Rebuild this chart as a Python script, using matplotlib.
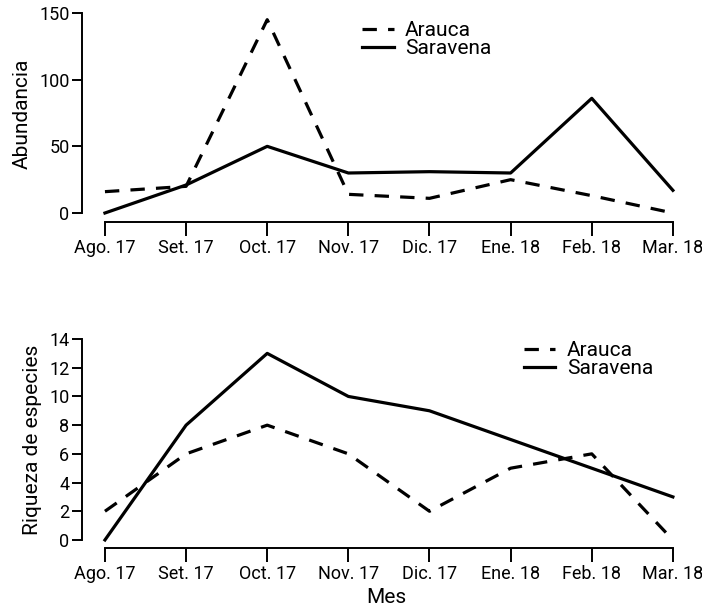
import matplotlib.pyplot as plt

plt.rcParams['font.family'] = ['Roboto', 'DejaVu Sans']

months = ['Ago. 17', 'Set. 17', 'Oct. 17', 'Nov. 17', 'Dic. 17', 'Ene. 18', 'Feb. 18', 'Mar. 18']

abund_arauca = [16, 20, 145, 14, 11, 25, 13, 0]
abund_saravena = [0, 21, 50, 30, 31, 30, 86, 17]

riq_arauca = [2, 6, 8, 6, 2, 5, 6, 0]
riq_saravena = [0, 8, 13, 10, 9, 7, 5, 3]

x = list(range(len(months)))

fig = plt.figure(figsize=(7.02, 6.11), dpi=100)
# top panel: y 5..222 px, bottom panel: y 332..548 px
ax1 = fig.add_axes([0.1168, 1 - 222 / 611, 0.866, 217 / 611])
ax2 = fig.add_axes([0.1168, 1 - 548 / 611, 0.866, 216 / 611])


def style(ax, yticks, ylabel, ymin, ymax):
    ax.set_xlim(-0.283, 7.21)
    ax.set_ylim(ymin, ymax)
    for s in ['top', 'right']:
        ax.spines[s].set_visible(False)
    ax.spines['left'].set_bounds(yticks[0], yticks[-1])
    ax.spines['bottom'].set_bounds(0, 7)
    for s in ['left', 'bottom']:
        ax.spines[s].set_linewidth(1.4)
    ax.set_xticks(x)
    ax.set_xticklabels(months)
    ax.set_yticks(yticks)
    ax.tick_params(axis='both', labelsize=13, width=1.4, length=7, direction='out', pad=2)
    ax.tick_params(axis='x', length=10, pad=2)
    ax.set_ylabel(ylabel, fontsize=15, labelpad=5)


leg_kw = dict(loc='upper left', frameon=False, fontsize=15, handlelength=1.5,
              handletextpad=0.55, labelspacing=-0.05, borderpad=0)

ax1.plot(x, abund_arauca, color='black', lw=2.3, ls=(0, (4.5, 3.5)), label='Arauca')
ax1.plot(x, abund_saravena, color='black', lw=2.3, label='Saravena')
style(ax1, [0, 50, 100, 150], 'Abundancia', -6.75, 156)
ax1.legend(bbox_to_anchor=(0.444, 0.975), **leg_kw)

ax2.plot(x, riq_arauca, color='black', lw=2.3, ls=(0, (4.5, 3.5)), label='Arauca')
ax2.plot(x, riq_saravena, color='black', lw=2.3, label='Saravena')
style(ax2, [0, 2, 4, 6, 8, 10, 12, 14], 'Riqueza de especies', -0.56, 14.49)
ax2.legend(bbox_to_anchor=(0.71, 1.005), **leg_kw)
ax2.set_xlabel('Mes', fontsize=15, labelpad=4)

fig.savefig('out.png', dpi=100)
